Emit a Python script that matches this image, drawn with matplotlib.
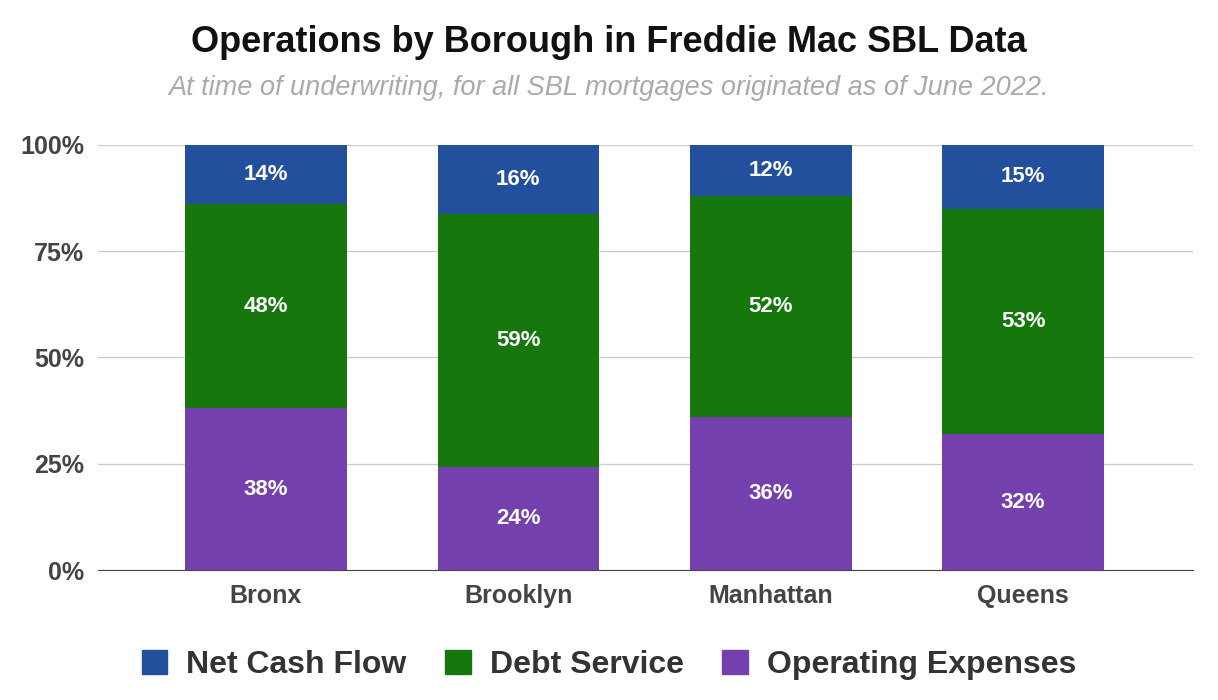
import numpy as np
import matplotlib.pyplot as plt
from matplotlib.patches import Patch

boroughs = ["Bronx", "Brooklyn", "Manhattan", "Queens"]
operating = [38, 24, 36, 32]
debt = [48, 59, 52, 53]
net_cash = [14, 16, 12, 15]

c_op = "#7440ad"
c_debt = "#16770d"
c_net = "#23509c"

plt.rcParams["font.family"] = ["Liberation Sans", "DejaVu Sans"]

fig = plt.figure(figsize=(12.18, 7), dpi=100)
ax = fig.add_axes([0.0805, 0.1857, 0.899, 0.6072])

x = np.arange(len(boroughs))
tot = np.array(operating) + np.array(debt) + np.array(net_cash)
op = np.array(operating) / tot * 100
db = np.array(debt) / tot * 100
nc = np.array(net_cash) / tot * 100
w = 0.64

ax.bar(x, op, w, color=c_op, zorder=3)
ax.bar(x, db, w, bottom=op, color=c_debt, zorder=3)
ax.bar(x, nc, w, bottom=op + db, color=c_net, zorder=3)

for i in range(len(x)):
    for lab, bot, h in [(operating[i], 0, op[i]), (debt[i], op[i], db[i]), (net_cash[i], op[i] + db[i], nc[i])]:
        ax.text(x[i], bot + h / 2, f"{lab}%", ha="center", va="center",
                color="white", fontsize=16, fontweight="bold", zorder=4)

ax.set_xlim(-0.665, 3.673)
ax.set_ylim(0, 100)
ax.set_yticks([0, 25, 50, 75, 100])
ax.set_yticklabels(["0%", "25%", "50%", "75%", "100%"])
ax.set_xticks(x)
ax.set_xticklabels(boroughs)
ax.grid(axis="y", color="#cccccc", linewidth=1, zorder=0)
for s in ["top", "right", "left"]:
    ax.spines[s].set_visible(False)
ax.spines["bottom"].set_color("#444444")
ax.tick_params(length=0, labelsize=18, labelcolor="#444444", pad=10)
for t in ax.get_xticklabels() + ax.get_yticklabels():
    t.set_fontweight("bold")

fig.text(0.5, 0.94, "Operations by Borough in Freddie Mac SBL Data", ha="center",
         va="center", fontsize=26, fontweight="bold", color="#111111")
fig.text(0.5, 0.874, "At time of underwriting, for all SBL mortgages originated as of June 2022.",
         ha="center", va="center", fontsize=19.5, style="italic", color="#aaaaaa")

handles = [Patch(color=c_net), Patch(color=c_debt), Patch(color=c_op)]
fig.legend(handles, ["Net Cash Flow", "Debt Service", "Operating Expenses"],
           loc="center", bbox_to_anchor=(0.5, 0.05), ncol=3, frameon=False,
           prop={"size": 23, "weight": "bold"}, handlelength=0.8, handleheight=0.8,
           columnspacing=1.2, handletextpad=0.6, labelcolor="#333333")

fig.savefig("out.png", dpi=100)
